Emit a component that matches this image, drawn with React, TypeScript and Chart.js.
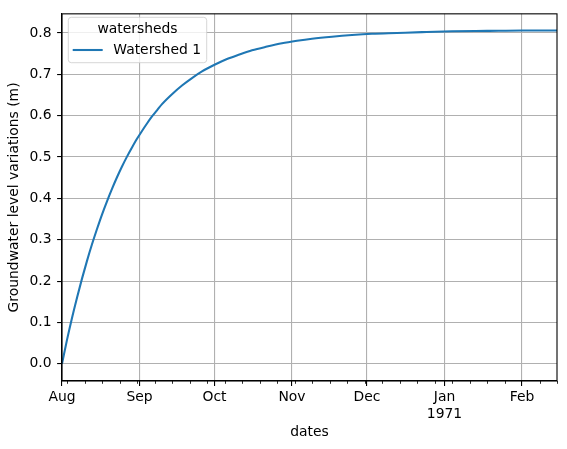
import React, { useEffect, useRef } from "react";
import { Chart, registerables } from "chart.js";

Chart.register(...registerables);

// Days since 1970-08-01 and the groundwater level
const dayOffsets = [0, 2, 4, 6, 8, 10, 12, 14, 16, 18, 20, 22, 24, 26, 28, 30, 32, 34, 36, 38, 40, 44, 48, 52, 56, 61, 66, 71, 76, 82, 88, 94, 100, 108, 116, 124, 134, 144, 156, 170, 184, 198];
const levels = [0.0, 0.058, 0.111, 0.16, 0.206, 0.249, 0.289, 0.326, 0.361, 0.393, 0.423, 0.451, 0.477, 0.501, 0.523, 0.544, 0.563, 0.581, 0.598, 0.613, 0.628, 0.652, 0.673, 0.691, 0.707, 0.723, 0.737, 0.748, 0.758, 0.767, 0.775, 0.781, 0.786, 0.791, 0.795, 0.798, 0.8, 0.802, 0.804, 0.805, 0.806, 0.806];

const seriesName = "Watershed 1";
const legendTitle = "watersheds";
const xTitle = "dates";
const yTitle = "Groundwater level variations (m)";

// Month starts (days since 1970-08-01) and their labels
const monthDays = [0, 31, 61, 92, 122, 153, 184];
const monthLabels: (string | string[])[] = ["Aug", "Sep", "Oct", "Nov", "Dec", ["Jan", "1971"], "Feb"];
// Weekly minor ticks (Mondays)
const mondayDays = [2, 9, 16, 23, 30, 37, 44, 51, 58, 65, 72, 79, 86, 93, 100, 107, 114, 121, 128, 135, 142, 149, 156, 163, 170, 177, 184, 191, 198];
const yTicks = [0.0, 0.1, 0.2, 0.3, 0.4, 0.5, 0.6, 0.7, 0.8];

const FONT = "'DejaVu Sans', sans-serif";
const FS = 13.9;
const LINE_COLOR = "#1f77b4";

export default function App() {
  const ref = useRef<HTMLCanvasElement | null>(null);

  useEffect(() => {
    document.body.style.margin = "0";
    const canvas = ref.current;
    if (!canvas) return;

    const overlay = {
      id: "overlay",
      afterDraw(chart: any) {
        const ctx = chart.ctx;
        const area = chart.chartArea;
        const xs = chart.scales.x;
        ctx.save();
        // minor ticks
        ctx.strokeStyle = "#000";
        ctx.lineWidth = 0.83;
        mondayDays.forEach((d) => {
          if (monthDays.includes(d)) return;
          const px = Math.round(xs.getPixelForValue(d)) + 0.5;
          ctx.beginPath();
          ctx.moveTo(px, area.bottom);
          ctx.lineTo(px, area.bottom + 2.8);
          ctx.stroke();
        });
        // frame (spines)
        ctx.lineWidth = 1.1;
        ctx.strokeRect(area.left, area.top, area.right - area.left, area.bottom - area.top);

        // legend
        const lx = 68.3, ly = 17.3, lw = 138.4, lh = 45.4;
        ctx.beginPath();
        (ctx as any).roundRect(lx, ly, lw, lh, 3);
        ctx.fillStyle = "rgba(255,255,255,0.8)";
        ctx.fill();
        ctx.strokeStyle = "rgba(204,204,204,0.8)";
        ctx.lineWidth = 1;
        ctx.stroke();
        ctx.fillStyle = "#000";
        ctx.font = `${FS}px ${FONT}`;
        ctx.textBaseline = "middle";
        ctx.textAlign = "center";
        ctx.fillText(legendTitle, lx + lw / 2, 29.5);
        const ds = chart.data.datasets[0];
        ctx.strokeStyle = ds.borderColor;
        ctx.lineWidth = 2.08;
        ctx.beginPath();
        ctx.moveTo(72.7, 50);
        ctx.lineTo(102.7, 50);
        ctx.stroke();
        ctx.textAlign = "left";
        ctx.fillText(ds.label, 113.3, 50);
        ctx.restore();
      },
    };

    const chart = new Chart(canvas, {
      type: "line",
      data: {
        datasets: [
          {
            label: seriesName,
            data: dayOffsets.map((d, i) => ({ x: d, y: levels[i] })),
            borderColor: LINE_COLOR,
            backgroundColor: LINE_COLOR,
            borderWidth: 2.08,
            pointRadius: 0,
            cubicInterpolationMode: "monotone",
            fill: false,
          },
        ],
      },
      options: {
        animation: false,
        responsive: false,
        maintainAspectRatio: false,
        layout: { padding: { top: 10, right: 10, left: 0, bottom: 0 }, autoPadding: false },
        plugins: { legend: { display: false }, tooltip: { enabled: false } },
        scales: {
          x: {
            type: "linear",
            min: 0,
            max: 198,
            afterBuildTicks: (scale: any) => {
              scale.ticks = monthDays.map((v) => ({ value: v }));
            },
            afterFit: (scale: any) => {
              scale.height = 68;
            },
            ticks: {
              autoSkip: false,
              maxRotation: 0,
              padding: 3,
              color: "#000",
              font: { family: FONT, size: FS },
              callback: (value: any) => {
                const i = monthDays.indexOf(Number(value));
                return i >= 0 ? monthLabels[i] : "";
              },
            },
            grid: {
              color: "#b0b0b0",
              lineWidth: 1.1,
              tickColor: "#000",
              tickLength: 4.9,
              tickWidth: 1.1,
            },
            border: { display: true, color: "#000", width: 1.1 },
            title: {
              display: true,
              text: xTitle,
              color: "#000",
              font: { family: FONT, size: FS },
              padding: { top: 4, bottom: 8 },
            },
          },
          y: {
            type: "linear",
            min: -0.0415,
            max: 0.8462,
            afterBuildTicks: (scale: any) => {
              scale.ticks = yTicks.map((v) => ({ value: v }));
            },
            afterFit: (scale: any) => {
              scale.width = 62;
            },
            ticks: {
              padding: 5.5,
              color: "#000",
              font: { family: FONT, size: FS },
              callback: (value: any) => Number(value).toFixed(1),
            },
            grid: {
              color: "#b0b0b0",
              lineWidth: 1.1,
              tickColor: "#000",
              tickLength: 4.9,
              tickWidth: 1.1,
            },
            border: { display: true, color: "#000", width: 1.1 },
            title: {
              display: true,
              text: yTitle,
              color: "#000",
              font: { family: FONT, size: FS },
              padding: { top: 6, bottom: 0 },
            },
          },
        },
      },
      plugins: [overlay],
    } as any);

    return () => chart.destroy();
  }, []);

  return (
    <canvas ref={ref} width={567} height={449} style={{ display: "block", width: 567, height: 449 }} />
  );
}
